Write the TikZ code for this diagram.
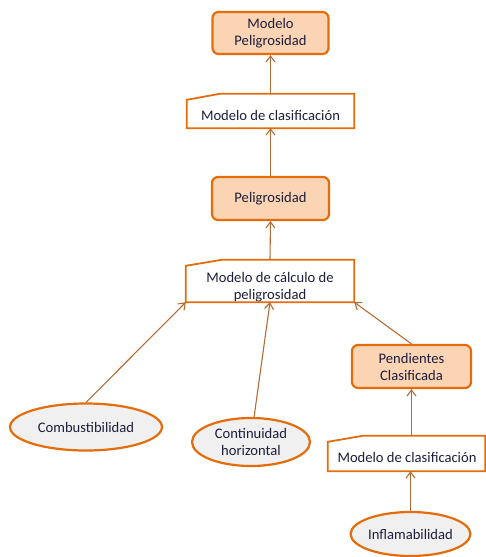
\documentclass[tikz,border=0pt]{standalone}
\usepackage{fontspec}
\setmainfont{Carlito}
\usetikzlibrary{shapes.geometric,arrows.meta,calc}
\definecolor{edge}{HTML}{E46C0A}
\definecolor{boxfill}{HTML}{FBD4B4}
\definecolor{ovalfill}{HTML}{F0F0F0}
\definecolor{link}{HTML}{B46C34}
\definecolor{ink}{HTML}{1E1E3C}
\begin{document}
\begin{tikzpicture}[x=1pt,y=-1pt,
  every node/.style={font=\fontsize{14.6}{17}\selectfont, text=ink, align=center, inner sep=0pt},
  result/.style={rectangle, rounded corners=6pt, draw=edge, fill=boxfill, line width=2.2pt},
  process/.style={rectangle, fill=white},
  source/.style={ellipse, draw=edge, fill=ovalfill, line width=2.2pt},
  flow/.style={draw=link, line width=1.1pt, -{Straight Barb[length=6pt,width=9pt]}},
  procedge/.style={draw=edge, line width=1.8pt}
]
\useasboundingbox (0,0) rectangle (486,557);

% result boxes
\node[result, minimum width=116pt, minimum height=42pt] (mp) at (270.5,33) {Modelo\\Peligrosidad};
\node[result, minimum width=117pt, minimum height=43pt] (pel) at (270.5,198.5) {Peligrosidad};
\node[result, minimum width=119pt, minimum height=43pt] (pend) at (411.5,366.5) {Pendientes\\Clasificada};

% process boxes (manual-input outline drawn below)
\node[process, minimum width=167pt, minimum height=34pt] (c1) at (270.5,111) {};
\node at (270.5,115) {Modelo de clasificación};
\node[process, minimum width=168pt, minimum height=42pt] (calc) at (270,281) {};
\node at (270,287) {Modelo de cálculo de\\peligrosidad};
\node[process, minimum width=157pt, minimum height=35pt] (c2) at (406.5,453.5) {};
\node at (407,457) {Modelo de clasificación};

\foreach \n/\s in {c1/33, calc/36, c2/35}{
  \draw[procedge] (\n.south west) -- ($(\n.north west)+(0,6)$) -- ($(\n.north west)+(\s,0)$)
    -- (\n.north east) -- (\n.south east) -- cycle;
}

% source ovals
\node[source, minimum width=152pt, minimum height=47pt] (comb) at (86,427) {Combustibilidad};
\node[source, minimum width=118pt, minimum height=48pt] (cont) at (251,442) {Continuidad\\horizontal};
\node[source, minimum width=116pt, minimum height=44pt] (inf) at (410.5,534) {Inflamabilidad};

% connectors
\draw[flow] (c1.north) -- (mp.south);
\draw[flow] (pel.north) -- (c1.south);
\draw[flow] (calc.north) -- (pel.south);
\draw[flow] (comb.north) -- (calc.south west);
\draw[flow] (cont.83) -- (calc.south);
\draw[flow] (pend.north) -- (calc.south east);
\draw[flow] (c2.north -| pend.south) -- (pend.south);
\draw[flow] (inf.north) -- (inf.north |- c2.south);
\end{tikzpicture}
\end{document}
